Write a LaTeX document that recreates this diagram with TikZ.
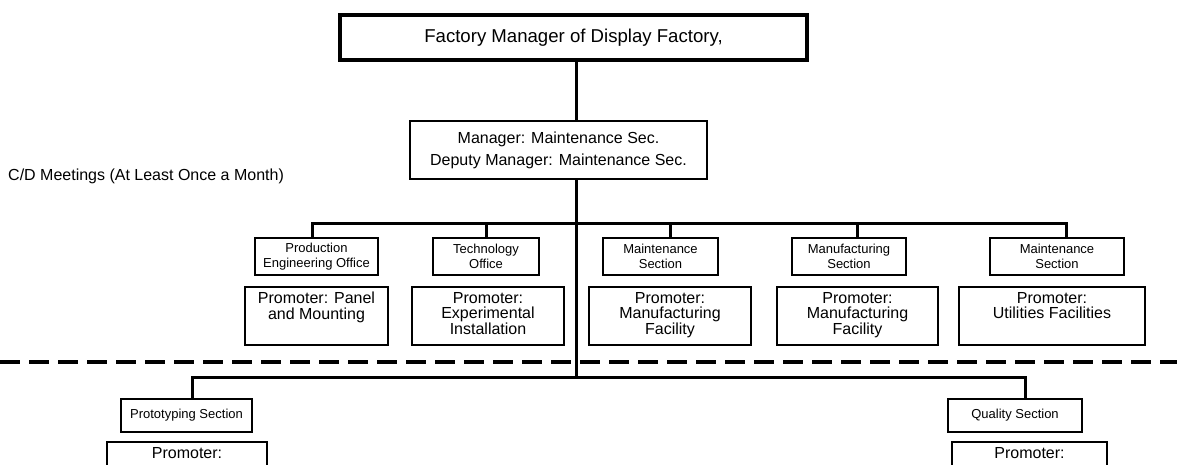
\documentclass[tikz,border=0pt]{standalone}
\usepackage{fontspec}
\setmainfont{Liberation Sans}
\usetikzlibrary{positioning,calc}
\tikzset{
  head/.style={draw=black,fill=white,line width=3.5pt,inner sep=0pt,minimum width=467pt,minimum height=45pt,font=\fontsize{18.6}{20}\selectfont},
  mgr/.style={draw=black,fill=white,line width=2pt,inner sep=0pt,minimum width=297pt,minimum height=58pt,align=center,font=\fontsize{16}{22}\selectfont},
  unit/.style={draw=black,fill=white,line width=2pt,inner sep=0pt,minimum height=37pt,align=center,font=\fontsize{13}{15}\selectfont},
  prom/.style={draw=black,fill=white,line width=2pt,inner sep=0pt,minimum height=58pt},
  promtext/.style={anchor=north,inner sep=0pt,align=center,font=\fontsize{16}{15.5}\selectfont},
}
\tikzset{link/.style={draw=black,line width=3pt}, divider/.style={draw=black,line width=4pt,dash pattern=on 20pt off 9pt}, note/.style={anchor=west,inner sep=0pt,font=\fontsize{16}{18}\selectfont}}

\begin{document}
\begin{tikzpicture}[x=1pt,y=-1pt]
\useasboundingbox (0,0) rectangle (1177,464);
\clip (0,0) rectangle (1177,464);
% spine and bars
\coordinate (sp) at (576,223);
\coordinate (lo) at (576,377);
\coordinate (d1) at (312,223);
\coordinate (d2) at (486,223);
\coordinate (d3) at (670,223);
\coordinate (d4) at (857,223);
\coordinate (d5) at (1066,223);
\coordinate (e1) at (192,377);
\coordinate (e2) at (1025,377);
% boxes
\node[head] (top) at (573.5,37.5) {Factory Manager of Display Factory,};
\node[mgr] (mgr) at (558.5,150) {Manager: Maintenance Sec.\\Deputy Manager: Maintenance Sec.};
\node[note] (cd) at (8,176) {C/D Meetings (At Least Once a Month)};
\node[unit,minimum width=123pt] (h1) at (316.5,256.5) {Production\\Engineering Office};
\node[unit,minimum width=106pt] (h2) at (486,256.5) {Technology\\Office};
\node[unit,minimum width=115pt] (h3) at (660.5,256.5) {Maintenance\\Section};
\node[unit,minimum width=114pt] (h4) at (849,256.5) {Manufacturing\\Section};
\node[unit,minimum width=134pt] (h5) at (1057,256.5) {Maintenance\\Section};
\node[prom,minimum width=143pt] (p1) at (316.5,316) {};
\node[prom,minimum width=152pt] (p2) at (488,316) {};
\node[prom,minimum width=162pt] (p3) at (670,316) {};
\node[prom,minimum width=161pt] (p4) at (857.5,316) {};
\node[prom,minimum width=186pt] (p5) at (1052,316) {};
\node[promtext] (p1t) at ([yshift=-6pt]p1.north) {Promoter: Panel\\and Mounting};
\node[promtext] (p2t) at ([yshift=-6pt]p2.north) {Promoter:\\Experimental\\Installation};
\node[promtext] (p3t) at ([yshift=-6pt]p3.north) {Promoter:\\Manufacturing\\Facility};
\node[promtext] (p4t) at ([yshift=-6pt]p4.north) {Promoter:\\Manufacturing\\Facility};
\node[promtext] (p5t) at ([yshift=-6pt]p5.north) {Promoter:\\Utilities Facilities};
\node[unit,minimum width=131pt,minimum height=33pt] (lp) at (186.5,415.5) {Prototyping Section};
\node[unit,minimum width=134pt,minimum height=33pt] (lq) at (1015,415.5) {Quality Section};
\node[prom,minimum width=160pt] (q1) at (187,471) {};
\node[prom,minimum width=155pt] (q2) at (1029.5,471) {};
\node[promtext] (q1t) at ([yshift=-6pt]q1.north) {Promoter:};
\node[promtext] (q2t) at ([yshift=-6pt]q2.north) {Promoter:};
% connectors
\draw[divider] (0,362) -- (1177,362);
\draw[link] (top.south -| sp) -- (mgr.north -| sp);
\draw[link] (mgr.south -| sp) -- (lo);
\draw[link] (h1.north -| d1) |- (d5) -- (h5.north -| d5);
\draw[link] (d2) -- (h2.north -| d2);
\draw[link] (d3) -- (h3.north -| d3);
\draw[link] (d4) -- (h4.north -| d4);
\draw[link] (lp.north -| e1) |- (e2) -- (lq.north -| e2);
\end{tikzpicture}
\end{document}
